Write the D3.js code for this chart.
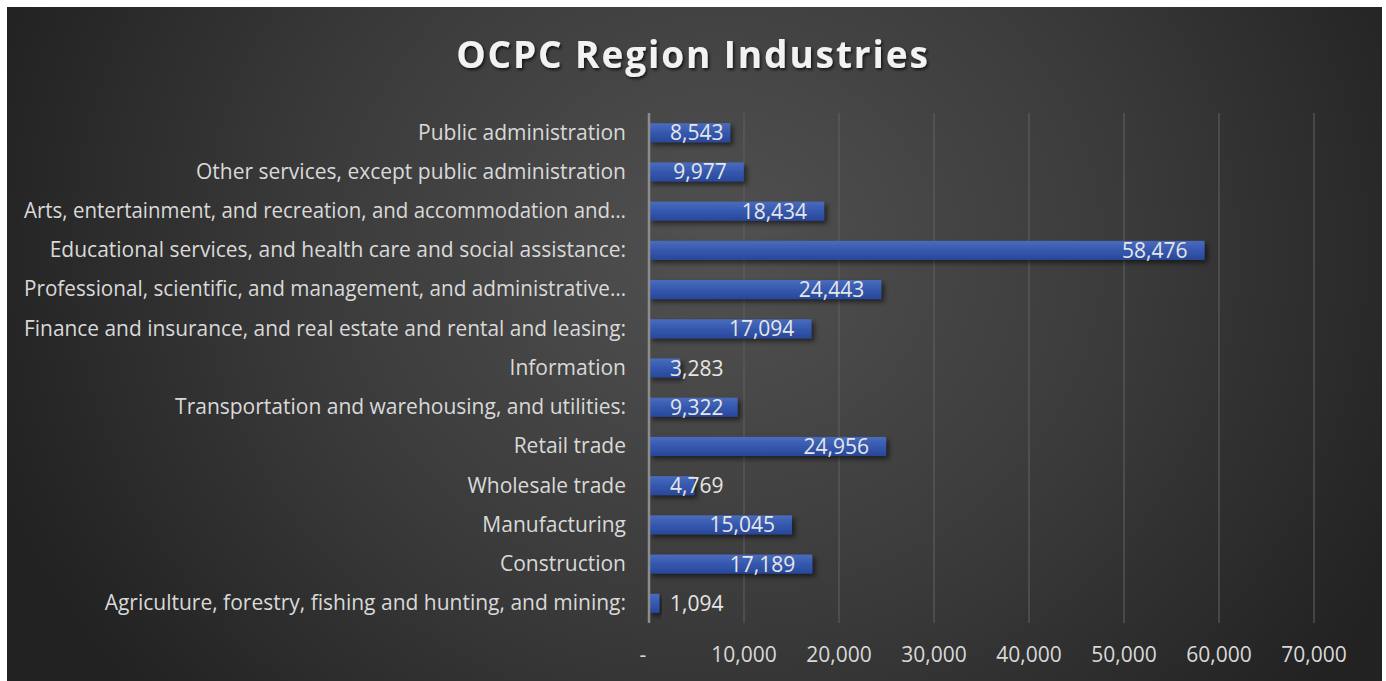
<!DOCTYPE html>
<html>
<head>
<meta charset="utf-8">
<script src="https://cdn.jsdelivr.net/npm/d3@7"></script>
<style>
  html, body { margin: 0; padding: 0; background: #ffffff; }
  svg { display: block; }
  text { font-family: "Open Sans", "Noto Sans", sans-serif; }
</style>
</head>
<body>
<svg id="chart" width="1386" height="681"></svg>
<script>
const title = "OCPC Region Industries";
const categories = [
  "Public administration",
  "Other services, except public administration",
  "Arts, entertainment, and recreation, and accommodation and…",
  "Educational services, and health care and social assistance:",
  "Professional, scientific, and management, and administrative…",
  "Finance and insurance, and real estate and rental and leasing:",
  "Information",
  "Transportation and warehousing, and utilities:",
  "Retail trade",
  "Wholesale trade",
  "Manufacturing",
  "Construction",
  "Agriculture, forestry, fishing and hunting, and mining:"
];
const values = [8543, 9977, 18434, 58476, 24443, 17094, 3283, 9322, 24956, 4769, 15045, 17189, 1094];
const xTicks = [0, 10000, 20000, 30000, 40000, 50000, 60000, 70000];
const xMax = 70000;

const svg = d3.select("#chart");
const frame = {x: 7, y: 7, w: 1375, h: 676};
const plot = {left: 649, right: 1314, top: 113, bottom: 623};
const labelRight = 626, labelMaxW = 602;

const defs = svg.append("defs");
const bg = defs.append("radialGradient").attr("id", "bg")
  .attr("gradientUnits", "userSpaceOnUse")
  .attr("cx", 720).attr("cy", 250).attr("r", 760)
  .attr("gradientTransform", "translate(720,250) scale(1,0.9) translate(-720,-250)");
bg.append("stop").attr("offset", "0").attr("stop-color", "#515151");
bg.append("stop").attr("offset", "0.55").attr("stop-color", "#3a3a3a");
bg.append("stop").attr("offset", "1").attr("stop-color", "#222222");

const barGrad = defs.append("linearGradient").attr("id", "barGrad")
  .attr("x1", 0).attr("y1", 0).attr("x2", 0).attr("y2", 1);
barGrad.append("stop").attr("offset", "0").attr("stop-color", "#4a6cbd");
barGrad.append("stop").attr("offset", "0.5").attr("stop-color", "#3558ae");
barGrad.append("stop").attr("offset", "1").attr("stop-color", "#28489a");

const shadow = defs.append("filter").attr("id", "shadow")
  .attr("x", "-10%").attr("y", "-40%").attr("width", "130%").attr("height", "200%");
shadow.append("feDropShadow").attr("dx", 3).attr("dy", 3).attr("stdDeviation", 2.5)
  .attr("flood-color", "#000").attr("flood-opacity", 0.55);

const tshadow = defs.append("filter").attr("id", "tshadow")
  .attr("x", "-5%").attr("y", "-30%").attr("width", "110%").attr("height", "160%");
tshadow.append("feDropShadow").attr("dx", 1.5).attr("dy", 2).attr("stdDeviation", 1.8)
  .attr("flood-color", "#000").attr("flood-opacity", 0.7);

svg.append("rect").attr("x", frame.x).attr("y", frame.y)
  .attr("width", frame.w).attr("height", frame.h).attr("fill", "url(#bg)");

svg.append("text").attr("x", 693).attr("y", 68)
  .attr("text-anchor", "middle")
  .attr("font-size", 37).attr("font-weight", 700)
  .attr("letter-spacing", 1.9)
  .attr("fill", "#f2f2f2").attr("filter", "url(#tshadow)")
  .text(title);

const x = d3.scaleLinear().domain([0, xMax]).range([plot.left, plot.right]);
const y = d3.scaleBand().domain(categories).range([plot.top, plot.bottom]).paddingInner(0.515).paddingOuter(0.26);

// gridlines
svg.append("g").selectAll("line").data(xTicks.filter(d => d > 0)).join("line")
  .attr("x1", d => x(d)).attr("x2", d => x(d))
  .attr("y1", plot.top).attr("y2", plot.bottom)
  .attr("stroke", "#5e5e5e").attr("stroke-opacity", 0.55).attr("stroke-width", 2);

// x tick labels
svg.append("g").selectAll("text").data(xTicks).join("text")
  .attr("x", d => d === 0 ? x(d) - 6 : x(d))
  .attr("y", 662)
  .attr("text-anchor", "middle")
  .attr("font-size", 21).attr("fill", "#d9d9d9")
  .text(d => d === 0 ? "-" : d3.format(",")(d));

// bars
svg.append("g").selectAll("rect").data(values).join("rect")
  .attr("x", x(0))
  .attr("y", (d, i) => y(categories[i]))
  .attr("width", d => x(d) - x(0))
  .attr("height", y.bandwidth())
  .attr("fill", "url(#barGrad)")
  .attr("filter", "url(#shadow)");

// axis line
svg.append("line").attr("x1", x(0)).attr("x2", x(0))
  .attr("y1", plot.top).attr("y2", plot.bottom)
  .attr("stroke", "#8c8c8c").attr("stroke-width", 2.5);

// category labels
svg.append("g").selectAll("text").data(categories).join("text")
  .attr("x", labelRight)
  .attr("y", d => y(d) + y.bandwidth() / 2)
  .attr("dy", "0.33em")
  .attr("text-anchor", "end")
  .attr("font-size", 21).attr("fill", "#d9d9d9")
  .text(d => d)
  .each(function() {
    if (this.getComputedTextLength() > labelMaxW) {
      d3.select(this).attr("textLength", labelMaxW).attr("lengthAdjust", "spacingAndGlyphs");
    }
  });

// value labels
const vl = svg.append("g").selectAll("text").data(values).join("text")
  .attr("y", (d, i) => y(categories[i]) + y.bandwidth() / 2)
  .attr("dy", "0.36em")
  .attr("text-anchor", "end")
  .attr("font-size", 21).attr("fill", "#e6e6e6")
  .text(d => d3.format(",")(d));
vl.each(function(d) {
  const w = this.getComputedTextLength();
  const xe = Math.max(x(d) - 17, x(0) + 21 + w);
  d3.select(this).attr("x", xe);
});
</script>
</body>
</html>
